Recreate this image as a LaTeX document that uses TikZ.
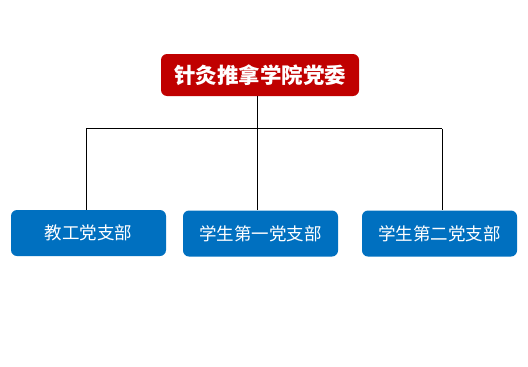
\documentclass[tikz,border=0pt]{standalone}
\usepackage{fontspec}
\newfontfamily\cjk{Noto Sans CJK SC}
\definecolor{partyred}{HTML}{C00000}
\definecolor{branchblue}{HTML}{0070C0}
\begin{document}
\begin{tikzpicture}[x=1pt,y=-1pt,
  topbox/.style={fill=partyred,rounded corners=6pt,minimum width=198pt,minimum height=42pt,text=white,font=\cjk\bfseries\fontsize{21.5}{21.5}\selectfont},
  branchbox/.style={fill=branchblue,rounded corners=6pt,minimum width=155pt,minimum height=46pt,text=white,font=\cjk\fontsize{17.5}{17.5}\selectfont},
  link/.style={draw=black,line width=0.8pt}]
\useasboundingbox (0,0) rectangle (528,367);
\node[topbox] (C) at (260,75) {针灸推拿学院党委};
\node[branchbox] (T) at (88.5,233) {教工党支部};
\node[branchbox] (S1) at (260.5,233.5) {学生第一党支部};
\node[branchbox] (S2) at (439.5,233.5) {学生第二党支部};
\coordinate (J) at (257,128.5);
\coordinate (JL) at (86,128.5);
\coordinate (JR) at (442,128.5);
\draw[link] (C.south -| J)--(J);
\draw[link] (JL)--(JR);
\draw[link] (JL)--(JL |- T.north);
\draw[link] (J)--(J |- S1.north);
\draw[link] (JR)--(JR |- S2.north);
\end{tikzpicture}
\end{document}
